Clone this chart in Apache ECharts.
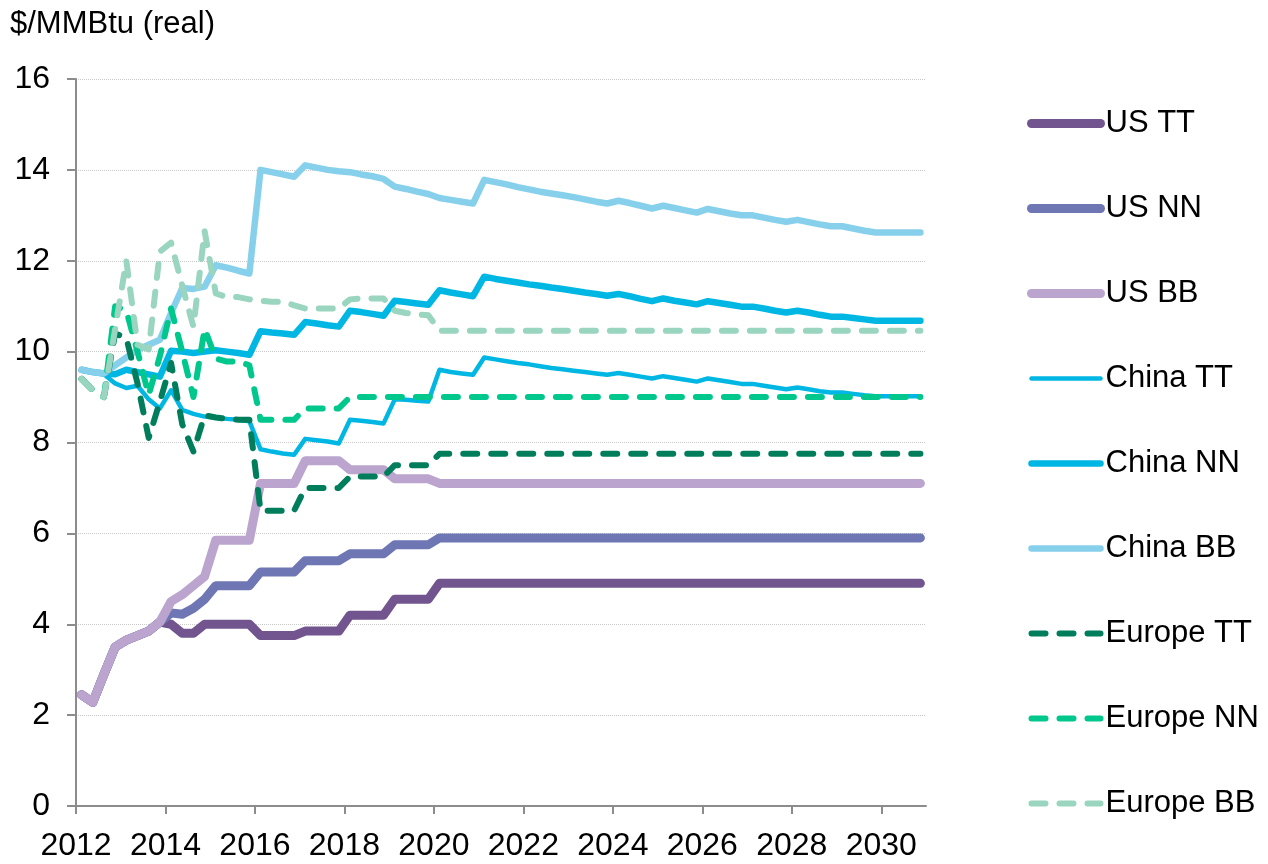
<!DOCTYPE html>
<html>
<head>
<meta charset="utf-8">
<title>Gas prices</title>
<script src="https://cdn.jsdelivr.net/npm/echarts/dist/echarts.min.js"></script>
<style>
  html, body { margin: 0; padding: 0; background: #fff; }
  #chart { width: 1268px; height: 864px; }
</style>
</head>
<body>
<div id="chart"></div>
<script>
// quarterly periods (mid-quarter, decimal years)
const quarters = [
  2012.125, 2012.375, 2012.625, 2012.875,
  2013.125, 2013.375, 2013.625, 2013.875,
  2014.125, 2014.375, 2014.625, 2014.875,
  2015.125, 2015.375, 2015.625, 2015.875,
  2016.125, 2016.375, 2016.625, 2016.875,
  2017.125, 2017.375, 2017.625, 2017.875,
  2018.125, 2018.375, 2018.625, 2018.875,
  2019.125, 2019.375, 2019.625, 2019.875,
  2020.125, 2020.375, 2020.625, 2020.875,
  2021.125, 2021.375, 2021.625, 2021.875,
  2022.125, 2022.375, 2022.625, 2022.875,
  2023.125, 2023.375, 2023.625, 2023.875,
  2024.125, 2024.375, 2024.625, 2024.875,
  2025.125, 2025.375, 2025.625, 2025.875,
  2026.125, 2026.375, 2026.625, 2026.875,
  2027.125, 2027.375, 2027.625, 2027.875,
  2028.125, 2028.375, 2028.625, 2028.875,
  2029.125, 2029.375, 2029.625, 2029.875,
  2030.125, 2030.375, 2030.625, 2030.875
];

// x axis tick labels
const tickYears = [2012, 2014, 2016, 2018, 2020, 2022, 2024, 2026, 2028, 2030];

// $/MMBtu (real)
const usTT = [
  2.45, 2.28, 2.9, 3.5,
  3.65, 3.75, 3.85, 4.05,
  4.0, 3.8, 3.8, 4.0,
  4.0, 4.0, 4.0, 4.0,
  3.75, 3.75, 3.75, 3.75,
  3.85, 3.85, 3.85, 3.85,
  4.2, 4.2, 4.2, 4.2,
  4.55, 4.55, 4.55, 4.55,
  4.9, 4.9, 4.9, 4.9,
  4.9, 4.9, 4.9, 4.9,
  4.9, 4.9, 4.9, 4.9,
  4.9, 4.9, 4.9, 4.9,
  4.9, 4.9, 4.9, 4.9,
  4.9, 4.9, 4.9, 4.9,
  4.9, 4.9, 4.9, 4.9,
  4.9, 4.9, 4.9, 4.9,
  4.9, 4.9, 4.9, 4.9,
  4.9, 4.9, 4.9, 4.9,
  4.9, 4.9, 4.9, 4.9
];
const usNN = [
  2.45, 2.28, 2.9, 3.5,
  3.65, 3.75, 3.85, 4.05,
  4.25, 4.22, 4.35, 4.55,
  4.85, 4.85, 4.85, 4.85,
  5.15, 5.15, 5.15, 5.15,
  5.4, 5.4, 5.4, 5.4,
  5.55, 5.55, 5.55, 5.55,
  5.75, 5.75, 5.75, 5.75,
  5.9, 5.9, 5.9, 5.9,
  5.9, 5.9, 5.9, 5.9,
  5.9, 5.9, 5.9, 5.9,
  5.9, 5.9, 5.9, 5.9,
  5.9, 5.9, 5.9, 5.9,
  5.9, 5.9, 5.9, 5.9,
  5.9, 5.9, 5.9, 5.9,
  5.9, 5.9, 5.9, 5.9,
  5.9, 5.9, 5.9, 5.9,
  5.9, 5.9, 5.9, 5.9,
  5.9, 5.9, 5.9, 5.9
];
const usBB = [
  2.45, 2.28, 2.9, 3.5,
  3.65, 3.75, 3.85, 4.05,
  4.5, 4.65, 4.85, 5.05,
  5.85, 5.85, 5.85, 5.85,
  7.1, 7.1, 7.1, 7.1,
  7.6, 7.6, 7.6, 7.6,
  7.4, 7.4, 7.4, 7.4,
  7.2, 7.2, 7.2, 7.2,
  7.1, 7.1, 7.1, 7.1,
  7.1, 7.1, 7.1, 7.1,
  7.1, 7.1, 7.1, 7.1,
  7.1, 7.1, 7.1, 7.1,
  7.1, 7.1, 7.1, 7.1,
  7.1, 7.1, 7.1, 7.1,
  7.1, 7.1, 7.1, 7.1,
  7.1, 7.1, 7.1, 7.1,
  7.1, 7.1, 7.1, 7.1,
  7.1, 7.1, 7.1, 7.1,
  7.1, 7.1, 7.1, 7.1
];
const chinaTT = [
  9.6, 9.55, 9.5, 9.3,
  9.2, 9.25, 8.95, 8.75,
  9.15, 8.72, 8.63, 8.57,
  8.55, 8.52, 8.5, 8.47,
  7.85, 7.8, 7.76, 7.73,
  8.08, 8.05, 8.02, 7.98,
  8.5, 8.48, 8.45, 8.42,
  8.95, 8.94, 8.92, 8.9,
  9.6, 9.55, 9.52, 9.49,
  9.87, 9.83, 9.79, 9.75,
  9.72, 9.68, 9.64, 9.61,
  9.58, 9.55, 9.52, 9.49,
  9.53, 9.49, 9.45, 9.41,
  9.46, 9.42, 9.38, 9.34,
  9.41, 9.37, 9.33, 9.29,
  9.29, 9.25, 9.21, 9.17,
  9.21, 9.17, 9.13, 9.1,
  9.1, 9.07, 9.04, 9.02,
  9.02, 9.02, 9.02, 9.02
];
const chinaNN = [
  9.6, 9.55, 9.52, 9.5,
  9.6, 9.55, 9.5, 9.45,
  10.02, 10.0, 9.97, 10.0,
  10.03, 10.0, 9.97, 9.93,
  10.45, 10.42, 10.4, 10.37,
  10.65, 10.62, 10.58, 10.55,
  10.9, 10.87, 10.83, 10.79,
  11.12, 11.09, 11.06, 11.03,
  11.35, 11.3, 11.26, 11.22,
  11.65, 11.6, 11.56, 11.52,
  11.48, 11.45, 11.41, 11.38,
  11.34, 11.3, 11.27, 11.23,
  11.27, 11.22, 11.16, 11.11,
  11.17, 11.12, 11.08, 11.04,
  11.11, 11.07, 11.03, 10.99,
  10.99, 10.95, 10.9, 10.86,
  10.9, 10.86, 10.81, 10.77,
  10.77, 10.74, 10.71, 10.68,
  10.68, 10.68, 10.68, 10.68
];
const chinaBB = [
  9.6, 9.55, 9.52, 9.7,
  9.87, 10.04, 10.15, 10.26,
  10.85, 11.4, 11.38, 11.43,
  11.9, 11.85, 11.78, 11.72,
  14.0, 13.95, 13.9, 13.85,
  14.1, 14.05, 14.0, 13.97,
  13.95, 13.9, 13.86, 13.8,
  13.63, 13.58, 13.52, 13.47,
  13.38, 13.34, 13.3, 13.26,
  13.78, 13.73, 13.68, 13.62,
  13.57, 13.52, 13.48, 13.44,
  13.4, 13.35, 13.3, 13.26,
  13.32, 13.27, 13.21, 13.15,
  13.21, 13.16, 13.11, 13.06,
  13.14, 13.09, 13.04, 13.0,
  13.0, 12.95, 12.9, 12.86,
  12.9, 12.85, 12.8, 12.76,
  12.76, 12.71, 12.66, 12.62,
  12.62, 12.62, 12.62, 12.62
];
const europeTT = [
  9.4, 9.15, 9.0, 10.4,
  10.3, 9.3, 8.1, 8.9,
  9.75, 8.4, 7.8, 8.6,
  8.55, 8.52, 8.5, 8.5,
  6.5, 6.5, 6.5, 6.5,
  7.0, 7.0, 7.0, 7.0,
  7.25, 7.25, 7.25, 7.25,
  7.5, 7.5, 7.5, 7.5,
  7.75, 7.75, 7.75, 7.75,
  7.75, 7.75, 7.75, 7.75,
  7.75, 7.75, 7.75, 7.75,
  7.75, 7.75, 7.75, 7.75,
  7.75, 7.75, 7.75, 7.75,
  7.75, 7.75, 7.75, 7.75,
  7.75, 7.75, 7.75, 7.75,
  7.75, 7.75, 7.75, 7.75,
  7.75, 7.75, 7.75, 7.75,
  7.75, 7.75, 7.75, 7.75,
  7.75, 7.75, 7.75, 7.75
];
const europeNN = [
  9.4, 9.15, 9.0, 11.0,
  10.9, 10.0, 9.05, 9.9,
  10.95, 10.0, 9.0, 10.5,
  9.85, 9.78, 9.78, 9.7,
  8.5, 8.5, 8.5, 8.5,
  8.75, 8.75, 8.75, 8.75,
  9.0, 9.0, 9.0, 9.0,
  9.0, 9.0, 9.0, 9.0,
  9.0, 9.0, 9.0, 9.0,
  9.0, 9.0, 9.0, 9.0,
  9.0, 9.0, 9.0, 9.0,
  9.0, 9.0, 9.0, 9.0,
  9.0, 9.0, 9.0, 9.0,
  9.0, 9.0, 9.0, 9.0,
  9.0, 9.0, 9.0, 9.0,
  9.0, 9.0, 9.0, 9.0,
  9.0, 9.0, 9.0, 9.0,
  9.0, 9.0, 9.0, 9.0,
  9.0, 9.0, 9.0, 9.0
];
const europeBB = [
  9.4, 9.15, 9.0, 10.5,
  12.0, 10.15, 10.05, 12.2,
  12.4, 11.45, 10.55, 12.65,
  11.28, 11.2, 11.2, 11.15,
  11.12, 11.1, 11.1, 11.02,
  10.95, 10.95, 10.95, 10.95,
  11.15, 11.17, 11.17, 11.17,
  10.9, 10.85, 10.82, 10.8,
  10.46, 10.46, 10.46, 10.46,
  10.46, 10.46, 10.46, 10.46,
  10.46, 10.46, 10.46, 10.46,
  10.46, 10.46, 10.46, 10.46,
  10.46, 10.46, 10.46, 10.46,
  10.46, 10.46, 10.46, 10.46,
  10.46, 10.46, 10.46, 10.46,
  10.46, 10.46, 10.46, 10.46,
  10.46, 10.46, 10.46, 10.46,
  10.46, 10.46, 10.46, 10.46,
  10.46, 10.46, 10.46, 10.46
];

const seriesNames = ['US TT', 'US NN', 'US BB', 'China TT', 'China NN', 'China BB', 'Europe TT', 'Europe NN', 'Europe BB'];
const seriesValues = [usTT, usNN, usBB, chinaTT, chinaNN, chinaBB, europeTT, europeNN, europeBB];

// styling
const colors = ['#72548f', '#6e76b4', '#bba5cf', '#00b7e3', '#00b7e3', '#87d0ec', '#007e5c', '#00c78c', '#9ad5c0'];
const widths = [9, 9, 9, 4.5, 6.5, 6.5, 6, 6, 6];
const dashed = [false, false, false, false, false, false, true, true, true];

const font = "'Liberation Sans', Arial, sans-serif";
const dash = [14, 14];

const chart = echarts.init(document.getElementById('chart'), null, { renderer: 'canvas' });

const series = seriesNames.map((name, k) => ({
    name: name,
    type: 'line',
    symbol: 'none',
    animation: false,
    data: quarters.map((q, i) => [q, seriesValues[k][i]]),
    itemStyle: { color: colors[k] },
    lineStyle: {
        color: colors[k],
        width: widths[k],
        type: dashed[k] ? dash : 'solid',
        cap: 'round',
        join: 'round'
    }
}));

const option = {
    backgroundColor: '#fff',
    animation: false,
    title: {
        text: '$/MMBtu (real)',
        left: 5,
        top: 4,
        textStyle: { fontFamily: font, fontSize: 31, fontWeight: 'normal', color: '#000' }
    },
    legend: {
        orient: 'vertical',
        left: 1022,
        top: 103,
        itemWidth: 69,
        itemHeight: 30,
        itemGap: 54,
        textStyle: { fontFamily: font, fontSize: 31, color: '#000', lineHeight: 30 },
        data: seriesNames.map((name, k) => ({
            name: name,
            itemStyle: { opacity: 0 },
            lineStyle: { width: widths[k] }
        }))
    },
    grid: { left: 76, right: 342, top: 79, bottom: 58, containLabel: false },
    xAxis: {
        type: 'value',
        min: 2012,
        max: 2031,
        interval: 2,
        axisLine: { show: true, lineStyle: { color: '#8c8c8c', width: 2 } },
        axisTick: { show: true, length: 8, lineStyle: { color: '#8c8c8c', width: 2 }, customValues: tickYears },
        axisLabel: {
            fontFamily: font, fontSize: 32, color: '#000', margin: 24,
            customValues: tickYears,
            formatter: v => String(v)
        },
        splitLine: { show: false }
    },
    yAxis: {
        type: 'value',
        min: 0,
        max: 16,
        interval: 2,
        axisLine: { show: true, lineStyle: { color: '#8c8c8c', width: 2 } },
        axisTick: { show: true, length: 9, lineStyle: { color: '#8c8c8c', width: 2 } },
        axisLabel: { fontFamily: font, fontSize: 32, color: '#000', margin: 26 },
        splitLine: { show: true, lineStyle: { color: '#c8c8c8', width: 1, type: 'dotted' } }
    },
    series: series
};

chart.setOption(option);
</script>
</body>
</html>
